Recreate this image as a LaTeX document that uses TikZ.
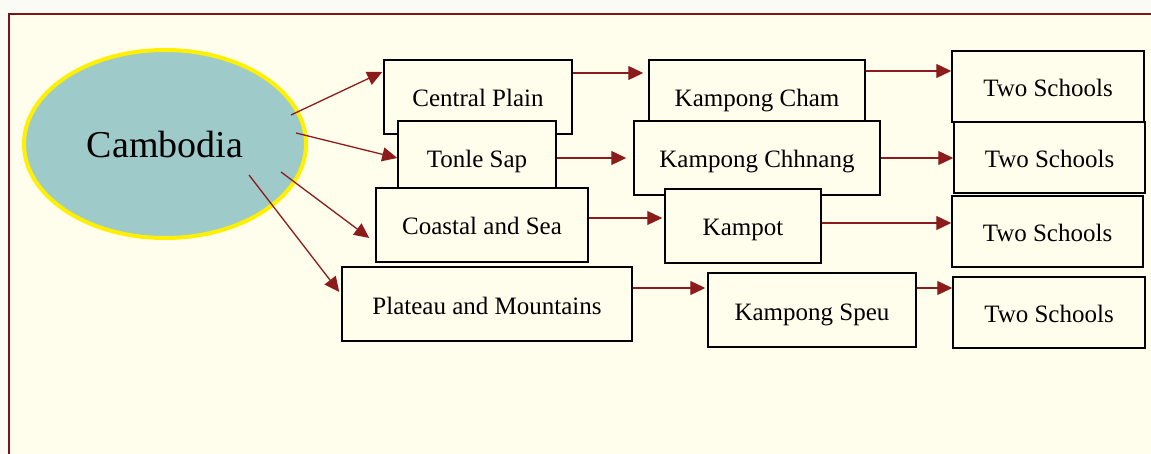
\documentclass[tikz,border=0pt]{standalone}
\usepackage{fontspec}
\setmainfont{Liberation Serif}
\usetikzlibrary{arrows.meta,shapes.geometric,shadows,calc}
\definecolor{cream}{HTML}{FFFDEB}
\definecolor{outside}{HTML}{FBFBF6}
\definecolor{framered}{HTML}{7A1518}
\definecolor{arrred}{HTML}{8C1C1C}
\definecolor{ellfill}{HTML}{9ECBC9}
\definecolor{ellline}{HTML}{FFF000}
\tikzset{
  boxn/.style={rectangle, draw=black, line width=1.5pt, fill=cream, inner sep=0pt,
    text height=24pt, text depth=4pt,
    font=\fontsize{25}{30}\selectfont,
    drop shadow={shadow xshift=1.3pt, shadow yshift=-1.3pt, fill=black, opacity=0.85}},
  arr/.style={draw=arrred, line width=1.3pt, -{Triangle[length=15pt,width=14pt]}},
}
\begin{document}
\begin{tikzpicture}[x=1pt,y=-1pt]
\useasboundingbox (0,0) rectangle (1151,454);
\fill[outside] (0,0) rectangle (1151,454);
\fill[cream] (9,14) rectangle (1151,454);
\draw[framered, line width=2.5pt] (9,454) -- (9,14) -- (1151,14);

% ellipse
\node[ellipse, draw=ellline, line width=4pt, fill=ellfill, minimum width=282pt, minimum height=188pt, inner sep=0pt,
  font=\fontsize{38}{44}\selectfont, text height=38pt, text depth=10pt] (cam) at (165,144) {Cambodia};

% region boxes
\node[boxn, minimum width=188pt, minimum height=74pt] (cp) at (478,97) {Central Plain};
\node[boxn, minimum width=158pt, minimum height=74pt] (tl) at (477,158) {Tonle Sap};
\node[boxn, minimum width=212pt, minimum height=74pt] (cs) at (482,225) {Coastal and Sea};
\node[boxn, minimum width=290pt, minimum height=74pt] (pm) at (487,304) {Plateau and Mountains};

% province boxes
\node[boxn, minimum width=216pt, minimum height=74pt] (kc) at (757,97) {Kampong Cham};
\node[boxn, minimum width=246pt, minimum height=74pt] (kh) at (757,158) {Kampong Chhnang};
\node[boxn, minimum width=156pt, minimum height=74pt] (kp) at (743,226) {Kampot};
\node[boxn, minimum width=208pt, minimum height=74pt] (ks) at (812,310) {Kampong Speu};

% school boxes
\node[boxn, minimum width=192pt, minimum height=71pt] (s1) at (1048,86.5) {Two Schools};
\node[boxn, minimum width=191pt, minimum height=71pt] (s2) at (1049.5,157.5) {Two Schools};
\node[boxn, minimum width=191pt, minimum height=71pt] (s3) at (1047.5,231.5) {Two Schools};
\node[boxn, minimum width=192pt, minimum height=71pt] (s4) at (1049,312.5) {Two Schools};

% starting points inside the ellipse
\coordinate (ea) at ($(cam.center)+(126,-29)$);
\coordinate (eb) at ($(cam.center)+(131,-11)$);
\coordinate (ec) at ($(cam.center)+(116,28)$);
\coordinate (ed) at ($(cam.center)+(84,31)$);

\draw[arr] (ea) -- ($(cp.west)+(-1,-25)$);
\draw[arr] (eb) -- (tl.west);
\draw[arr] (ec) -- ($(cs.west)+(-6,13)$);
\draw[arr] (ed) -- ($(pm.west)+(-2,-12)$);

\draw[arr] ($(cp.east)+(0,-24)$) -- ($(kc.west)+(-5,-24)$);
\draw[arr] (tl.east) -- ($(kh.west)+(-7,0)$);
\draw[arr] ($(cs.east)+(0,-7)$) -- ($(kp.west)+(-2,-8)$);
\draw[arr] ($(pm.east)+(0,-16)$) -- ($(ks.west)+(-2,-22)$);

\draw[arr] ($(kc.east)+(0,-26)$) -- ($(s1.west)+(0,-15.5)$);
\draw[arr] (kh.east) -- ($(s2.west)+(0,0.5)$);
\draw[arr] ($(kp.east)+(0,-3)$) -- ($(s3.west)+(0,-8.5)$);
\draw[arr] ($(ks.east)+(0,-22)$) -- ($(s4.west)+(0,-24.5)$);
\end{tikzpicture}
\end{document}
